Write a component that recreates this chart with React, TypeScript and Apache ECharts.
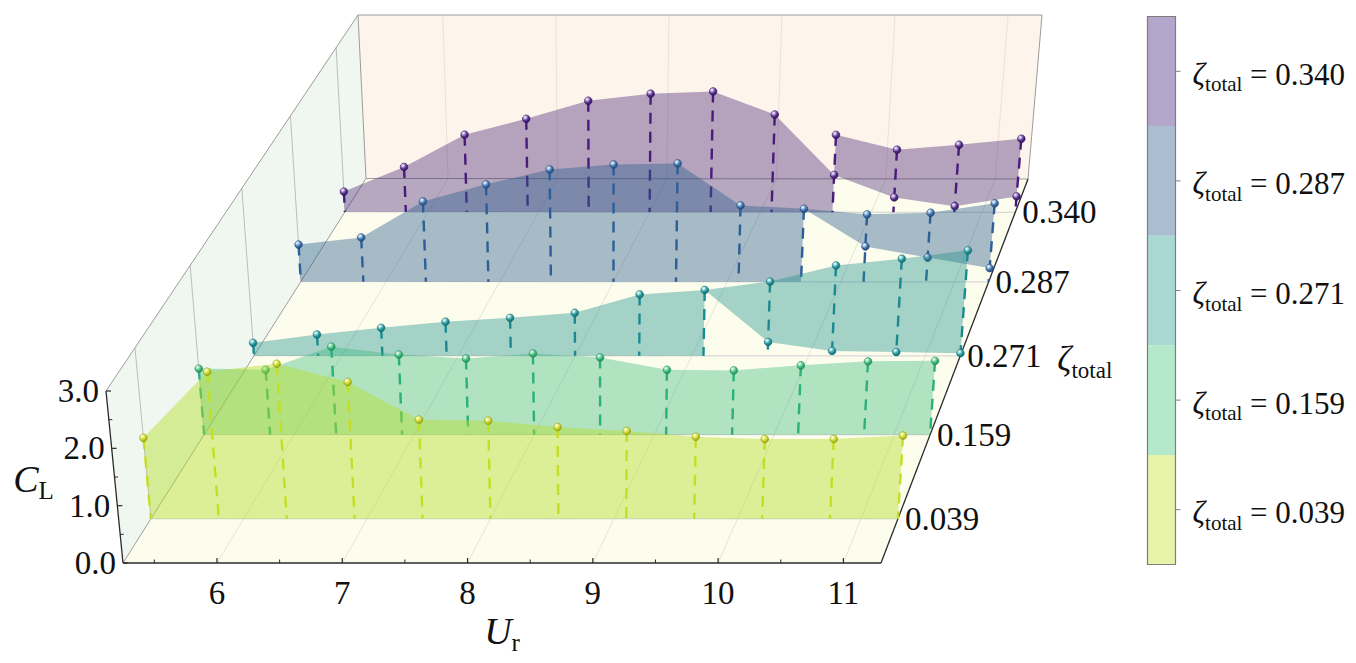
import React, { useEffect, useRef } from "react";
import * as echarts from "echarts";

// ---------------- data ----------------
const urValues = [5.25, 5.8, 6.35, 6.9, 7.45, 8.0, 8.55, 9.1, 9.65, 10.2, 10.75, 11.3];
const zetaLabels = ["0.039", "0.159", "0.271", "0.287", "0.340"];
const urTicks = [6, 7, 8, 9, 10, 11];
const urMinorTicks = [5.5, 6.5, 7.5, 8.5, 9.5, 10.5];
const clTicks = [0, 1, 2, 3];
const clTickLabels = ["0.0", "1.0", "2.0", "3.0"];
const clMinorTicks = [0.5, 1.5, 2.5];

const clZeta039 = [1.42, 2.58, 2.72, 2.4, 1.74, 1.72, 1.61, 1.54, 1.44, 1.4, 1.4, 1.46];
const clZeta159 = [1.17, 1.15, 1.56, 1.42, 1.35, 1.44, 1.37, 1.15, 1.14, 1.23, 1.3, 1.31];
const clZeta271Upper = [0.23, 0.38, 0.5, 0.61, 0.68, 0.77, 1.1, 1.18, 1.33, 1.62, 1.74, 1.89];
const clZeta271Lower = [null, null, null, null, null, null, null, null, 0.25, 0.09, 0.07, 0.05];
const clZeta287Upper = [0.67, 0.8, 1.45, 1.76, 2.03, 2.12, 2.14, 1.38, 1.32, 1.22, 1.25, 1.42];
const clZeta287Lower = [null, null, null, null, null, null, null, null, null, 0.64, 0.44, 0.25];
const clZeta340Upper = [0.37, 0.82, 1.41, 1.7, 2.03, 2.16, 2.2, 1.78, 1.41, 1.14, 1.23, 1.34];
const clZeta340Lower = [null, null, null, null, null, null, null, null, 0.68, 0.27, 0.11, 0.29];

type Row = { zeta: string; upper: number[]; lower: (number | null)[] | null; main: "upper" | "lower" };
const rows: Row[] = [
  { zeta: zetaLabels[0], upper: clZeta039, lower: null, main: "upper" },
  { zeta: zetaLabels[1], upper: clZeta159, lower: null, main: "upper" },
  { zeta: zetaLabels[2], upper: clZeta271Upper, lower: clZeta271Lower, main: "upper" },
  { zeta: zetaLabels[3], upper: clZeta287Upper, lower: clZeta287Lower, main: "upper" },
  { zeta: zetaLabels[4], upper: clZeta340Upper, lower: clZeta340Lower, main: "lower" },
];

// ---------------- styles / layout ----------------
const rowStyles = [
  { fill: "rgba(181,222,43,0.45)", line: "#c5de23", light: "#f2f7a0", mid: "#c6d42a", dark: "#8c9610" },
  { fill: "rgba(53,183,121,0.38)", line: "#2bb07a", light: "#b8ecd0", mid: "#3cb878", dark: "#1b8455" },
  { fill: "rgba(33,145,140,0.40)", line: "#1b8a90", light: "#b0e6e6", mid: "#23939a", dark: "#10646b" },
  { fill: "rgba(45,95,140,0.42)", line: "#2c5e98", light: "#bcd4ee", mid: "#3a6fa8", dark: "#1c4274" },
  { fill: "rgba(72,40,120,0.40)", line: "#4a1a7c", light: "#cdb8ea", mid: "#55308a", dark: "#2c0e58" },
];
const legendColors = ["#b4a6ca", "#aabdd1", "#a9d8d3", "#b3e8ca", "#e6f3a9"];

const FAMILY = "'Liberation Serif', 'DejaVu Serif', serif";
const font = (size: number, italic = false) => (italic ? "italic " : "") + size + "px " + FAMILY;
const W = 1356;
const H = 663;
const AXIS = { urMin: 5.25, urMax: 11.3, clMax: 3 };
const BOX = {
  fbl: [123, 563], fbr: [881, 563], ftl: [106, 391], ftr: [891, 391],
  bbl: [366, 178.5], bbr: [1028, 179], btl: [358, 15], btr: [1042, 15],
};
const PERSP = 1.17;

function depthOf(i: number) {
  const d = (i + 0.5) / rows.length;
  return (PERSP * d) / (1 + (PERSP - 1) * d);
}
const lerp = (a: number, b: number, t: number) => a + (b - a) * t;
const mix = (p: number[], q: number[], t: number) => [lerp(p[0], q[0], t), lerp(p[1], q[1], t)];
function project(ur: number, s: number, cl: number) {
  const u = (ur - AXIS.urMin) / (AXIS.urMax - AXIS.urMin);
  const w = cl / AXIS.clMax;
  const fb = mix(BOX.fbl, BOX.fbr, u);
  const ft = mix(BOX.ftl, BOX.ftr, u);
  const bb = mix(BOX.bbl, BOX.bbr, u);
  const bt = mix(BOX.btl, BOX.btr, u);
  return mix(mix(fb, ft, w), mix(bb, bt, w), s);
}

const subRich = (mainSize: number, subSize: number, italic: boolean) => ({
  m: { font: font(mainSize, italic), fontFamily: FAMILY, fontSize: mainSize, fontStyle: italic ? "italic" : "normal", lineHeight: mainSize + 10, verticalAlign: "middle", fill: "#111" },
  s: { font: font(subSize), fontFamily: FAMILY, fontSize: subSize, lineHeight: subSize, verticalAlign: "bottom", fill: "#111" },
  e: { font: font(mainSize), fontFamily: FAMILY, fontSize: mainSize, lineHeight: mainSize + 10, verticalAlign: "middle", fill: "#111" },
});

export default function App() {
  const ref = useRef<HTMLDivElement>(null);
  useEffect(() => {
    if (!ref.current) return;
    const chart = echarts.init(ref.current, null, { renderer: "svg" });

    const txt = (x: number, y: number, text: string, align: string) => ({
      type: "text",
      x,
      y,
      style: { text, font: font(33), fontFamily: FAMILY, fontSize: 33, fill: "#111", align, verticalAlign: "middle" },
    });

    const frameRender = (params: any, api: any) => {
      const P = (ur: number, s: number, cl: number) => api.coord(project(ur, s, cl));
      const mn = AXIS.urMin, mx = AXIS.urMax, top = AXIS.clMax;
      const ch: any[] = [];
      const poly = (pts: number[][], fill: string) => ch.push({ type: "polygon", shape: { points: pts }, style: { fill } });
      const seg = (a: number[], b: number[], stroke: string, lw = 1) =>
        ch.push({ type: "line", shape: { x1: a[0], y1: a[1], x2: b[0], y2: b[1] }, style: { stroke, lineWidth: lw } });
      // walls
      poly([P(mn, 0, 0), P(mx, 0, 0), P(mx, 1, 0), P(mn, 1, 0)], "#fdfdee");
      poly([P(mn, 0, 0), P(mn, 1, 0), P(mn, 1, top), P(mn, 0, top)], "#eff7f0");
      poly([P(mn, 1, 0), P(mx, 1, 0), P(mx, 1, top), P(mn, 1, top)], "#fdf4ec");
      // grid lines
      urTicks.forEach((t) => {
        seg(P(t, 0, 0), P(t, 1, 0), "#dcdcd4", 0.8);
        seg(P(t, 1, 0), P(t, 1, top), "#e6ddd5", 0.8);
      });
      rows.forEach((_, i) => {
        const s = depthOf(i);
        seg(P(mn, s, 0), P(mx, s, 0), "#cfcfcf", 1);
        seg(P(mn, s, 0), P(mn, s, top), "#bdbdbd", 1);
      });
      // wall edges
      const edge = "#9c9c9c";
      seg(P(mn, 0, top), P(mn, 1, top), edge);
      seg(P(mn, 1, top), P(mx, 1, top), edge);
      seg(P(mx, 1, top), P(mx, 1, 0), edge);
      seg(P(mn, 1, 0), P(mn, 1, top), edge);
      seg(P(mn, 1, 0), P(mx, 1, 0), edge);
      seg(P(mn, 0, 0), P(mn, 1, 0), edge);
      // axes
      const ax = "#2a2a2a";
      seg(P(mn, 0, 0), P(mn, 0, top), ax, 1.3);
      seg(P(mn, 0, 0), P(mx, 0, 0), ax, 1.3);
      seg(P(mx, 0, 0), P(mx, 1, 0), ax, 1.3);
      urTicks.forEach((t) => {
        const p = P(t, 0, 0);
        seg(p, [p[0], p[1] - 5], ax, 1.2);
        ch.push(txt(p[0], p[1] + 30, String(t), "center"));
      });
      urMinorTicks.forEach((t) => {
        const p = P(t, 0, 0);
        seg(p, [p[0], p[1] - 3.5], ax, 1);
      });
      clTicks.forEach((c, k) => {
        const p = P(mn, 0, c);
        seg(p, [p[0] + 5, p[1]], ax, 1.2);
        ch.push(txt(p[0] - 7, p[1], clTickLabels[k], "right"));
      });
      clMinorTicks.forEach((c) => {
        const p = P(mn, 0, c);
        seg(p, [p[0] + 3.5, p[1]], ax, 1);
      });
      rows.forEach((r, i) => {
        const p = P(mx, depthOf(i), 0);
        ch.push(txt(p[0] + 7, p[1], r.zeta, "left"));
      });
      // axis titles
      const pu = P((mn + mx) / 2, 0, 0);
      ch.push({ type: "text", x: pu[0], y: pu[1] + 68, style: { text: "{m|U}{s|r}", rich: subRich(38, 25, true), align: "center", verticalAlign: "middle" } });
      const pc = P(mn, 0, 1.5);
      ch.push({ type: "text", x: pc[0] - 81, y: pc[1] + 2, style: { text: "{m|C}{s|L}", rich: subRich(38, 25, true), align: "center", verticalAlign: "middle" } });
      const pz = P(mx, depthOf(2), 0);
      ch.push({ type: "text", x: pz[0] + 97, y: pz[1] + 4, style: { text: "{m|ζ}{s|total}", rich: subRich(35, 23, true), align: "left", verticalAlign: "middle" } });
      return { type: "group", children: ch };
    };

    const rowRender = (ri: number) => (params: any, api: any) => {
      const row = rows[ri];
      const st = rowStyles[ri];
      const s = depthOf(ri);
      const P = (ur: number, cl: number) => api.coord(project(ur, s, cl));
      const ch: any[] = [];
      const idx = params.dataIndex;
      if (idx === 0) {
        const n = urValues.length;
        const up = (i: number) => P(urValues[i], row.upper[i]);
        const pts: number[][] = [P(urValues[0], 0)];
        const lower = row.lower;
        if (!lower) {
          for (let i = 0; i < n; i++) pts.push(up(i));
          pts.push(P(urValues[n - 1], 0));
        } else {
          const k = lower.findIndex((v) => v !== null);
          const lo = (i: number) => P(urValues[i], lower[i] as number);
          if (row.main === "upper") {
            for (let i = 0; i < n; i++) pts.push(up(i));
            for (let i = n - 1; i >= k; i--) pts.push(lo(i));
            pts.push(up(k - 1));
            pts.push(P(urValues[k - 1], 0));
          } else {
            for (let i = 0; i < k; i++) pts.push(up(i));
            pts.push(lo(k));
            for (let i = k; i < n; i++) pts.push(up(i));
            for (let i = n - 1; i >= k; i--) pts.push(lo(i));
            pts.push(P(urValues[k], 0));
          }
        }
        ch.push({ type: "polygon", shape: { points: pts }, style: { fill: st.fill } });
      }
      const ur = api.value(0);
      const upv = api.value(1);
      const lov = api.value(2);
      const a = P(ur, upv);
      const b = P(ur, 0);
      ch.push({ type: "line", shape: { x1: a[0], y1: a[1], x2: b[0], y2: b[1] }, style: { stroke: st.line, lineWidth: 2.4, lineDash: [11, 8] } });
      const ball = (p: number[]) =>
        ch.push({
          type: "circle",
          shape: { cx: p[0], cy: p[1], r: 3.9 },
          style: {
            fill: new echarts.graphic.RadialGradient(0.35, 0.3, 0.8, [
              { offset: 0, color: "#ffffff" },
              { offset: 0.18, color: st.light },
              { offset: 0.55, color: st.mid },
              { offset: 1, color: st.dark },
            ]),
            stroke: st.dark,
            lineWidth: 0.5,
          },
        });
      if (typeof lov === "number" && !isNaN(lov)) ball(P(ur, lov));
      ball(a);
      return { type: "group", children: ch };
    };

    const rowSeries = rows
      .map((row, ri) => ({
        type: "custom",
        name: "zeta " + row.zeta,
        coordinateSystem: "cartesian2d",
        clip: false,
        silent: true,
        z: 10 + (rows.length - ri),
        renderItem: rowRender(ri),
        data: urValues.map((u, i) => [u, row.upper[i], row.lower && row.lower[i] !== null ? row.lower[i] : NaN]),
      }))
      .reverse();

    const legendH = 548 / 5;
    const legendChildren: any[] = [];
    legendColors.forEach((c, i) => {
      legendChildren.push({ type: "rect", shape: { x: 0, y: i * legendH, width: 28, height: legendH }, style: { fill: c } });
    });
    legendChildren.push({ type: "rect", shape: { x: 0, y: 0, width: 28, height: legendH * 5 }, style: { fill: "none", stroke: "#7d7d7d", lineWidth: 1.2 } });
    const legendOrder = [...zetaLabels].reverse();
    legendOrder.forEach((z, i) => {
      const y = (i + 0.5) * legendH;
      legendChildren.push({ type: "line", shape: { x1: 28, y1: y, x2: 33, y2: y }, style: { stroke: "#7d7d7d", lineWidth: 1 } });
      legendChildren.push({
        type: "text",
        x: 45,
        y: y + 3,
        style: { text: "{m|ζ}{s|total}{e| = " + z + "}", rich: subRich(31, 21, true), align: "left", verticalAlign: "middle" },
      });
    });

    chart.setOption({
      animation: false,
      backgroundColor: "#ffffff",
      textStyle: { fontFamily: FAMILY },
      grid: { left: 0, right: 0, top: 0, bottom: 0 },
      xAxis: { type: "value", min: 0, max: W, show: false },
      yAxis: { type: "value", min: 0, max: H, inverse: true, show: false },
      graphic: [{ type: "group", left: 1145, top: 14, children: legendChildren }],
      series: [
        {
          type: "custom",
          name: "frame",
          coordinateSystem: "cartesian2d",
          clip: false,
          silent: true,
          z: 2,
          renderItem: frameRender,
          data: [[0, 0]],
        },
        ...rowSeries,
      ],
    } as any);
    return () => chart.dispose();
  }, []);
  return <div ref={ref} style={{ position: "absolute", left: 0, top: 0, width: W, height: H, background: "#fff" }} />;
}
